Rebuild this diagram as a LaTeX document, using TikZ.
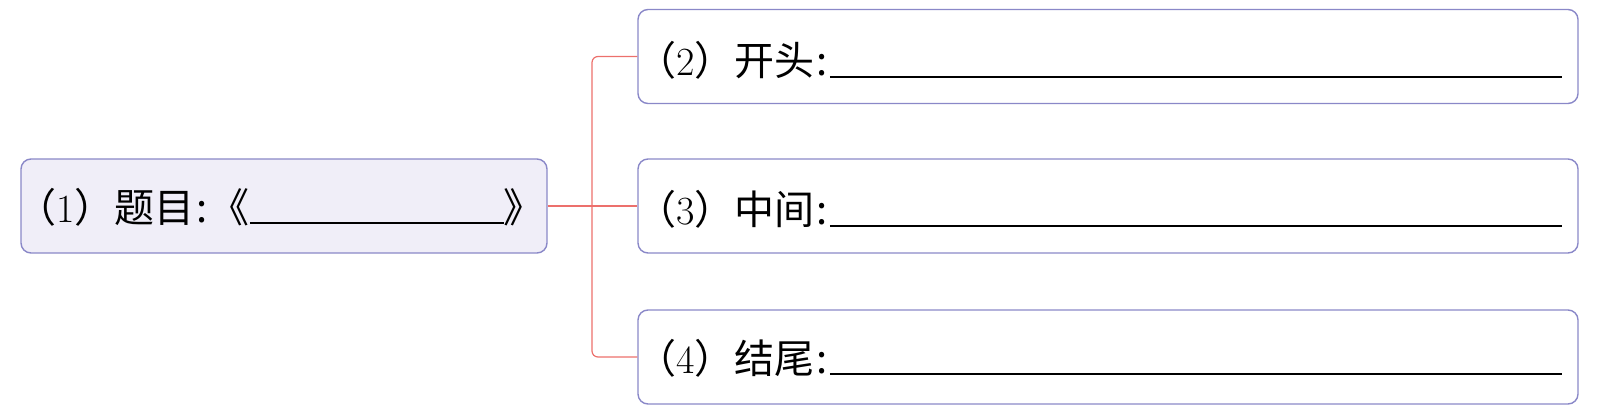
\documentclass[tikz,border=0pt]{standalone}
\usepackage{fontspec}
\newfontfamily\cjk{Noto Sans CJK SC}
\usepackage{tikz}
\usetikzlibrary{positioning}

\definecolor{boxline}{RGB}{138,136,200}
\definecolor{boxfill}{RGB}{240,238,248}
\definecolor{branchred}{RGB}{236,112,108}

\tikzset{
  rbox/.style={draw=boxline, line width=0.7pt, rounded corners=5pt, minimum height=47pt},
  label text/.style={anchor=base west, inner sep=0pt, font=\fontsize{20}{22}\selectfont},
  branch/.style={draw=branchred, line width=0.6pt, rounded corners=3pt}
}
\newcommand{\blankline}[1]{\rule[-1pt]{#1}{0.9pt}}
\newcommand{\colonsp}{{\cjk\kern1pt:\kern1pt}}

\begin{document}
\begin{tikzpicture}[x=0.5pt,y=-0.5pt]
\useasboundingbox (0,0) rectangle (1609,411);

% boxes
\node[rbox, fill=boxfill, minimum width=263pt] (b1) at (284,206) {};
\node[rbox, minimum width=470pt] (b2) at (1108,56.5) {};
\node[rbox, minimum width=470pt] (b3) at (1108,206) {};
\node[rbox, minimum width=470pt] (b4) at (1108,357) {};

% texts
\node[label text] (t1) at (16,222) {{\cjk （}1{\cjk ）题目}\colonsp{\cjk 《}\blankline{127pt}{\cjk 》}};
\node[label text] (t2) at (636,76) {{\cjk （}2{\cjk ）开头}\colonsp\blankline{366pt}};
\node[label text] (t3) at (636,225) {{\cjk （}3{\cjk ）中间}\colonsp\blankline{366pt}};
\node[label text] (t4) at (636,373) {{\cjk （}4{\cjk ）结尾}\colonsp\blankline{366pt}};

% connectors
\coordinate (top) at (592,56.5);
\coordinate (bot) at (592,357);
\draw[branch] (b1.east) -- (b3.west);
\draw[branch] (b2.west) -- (top) -- (bot) -- (b4.west);

\end{tikzpicture}
\end{document}
